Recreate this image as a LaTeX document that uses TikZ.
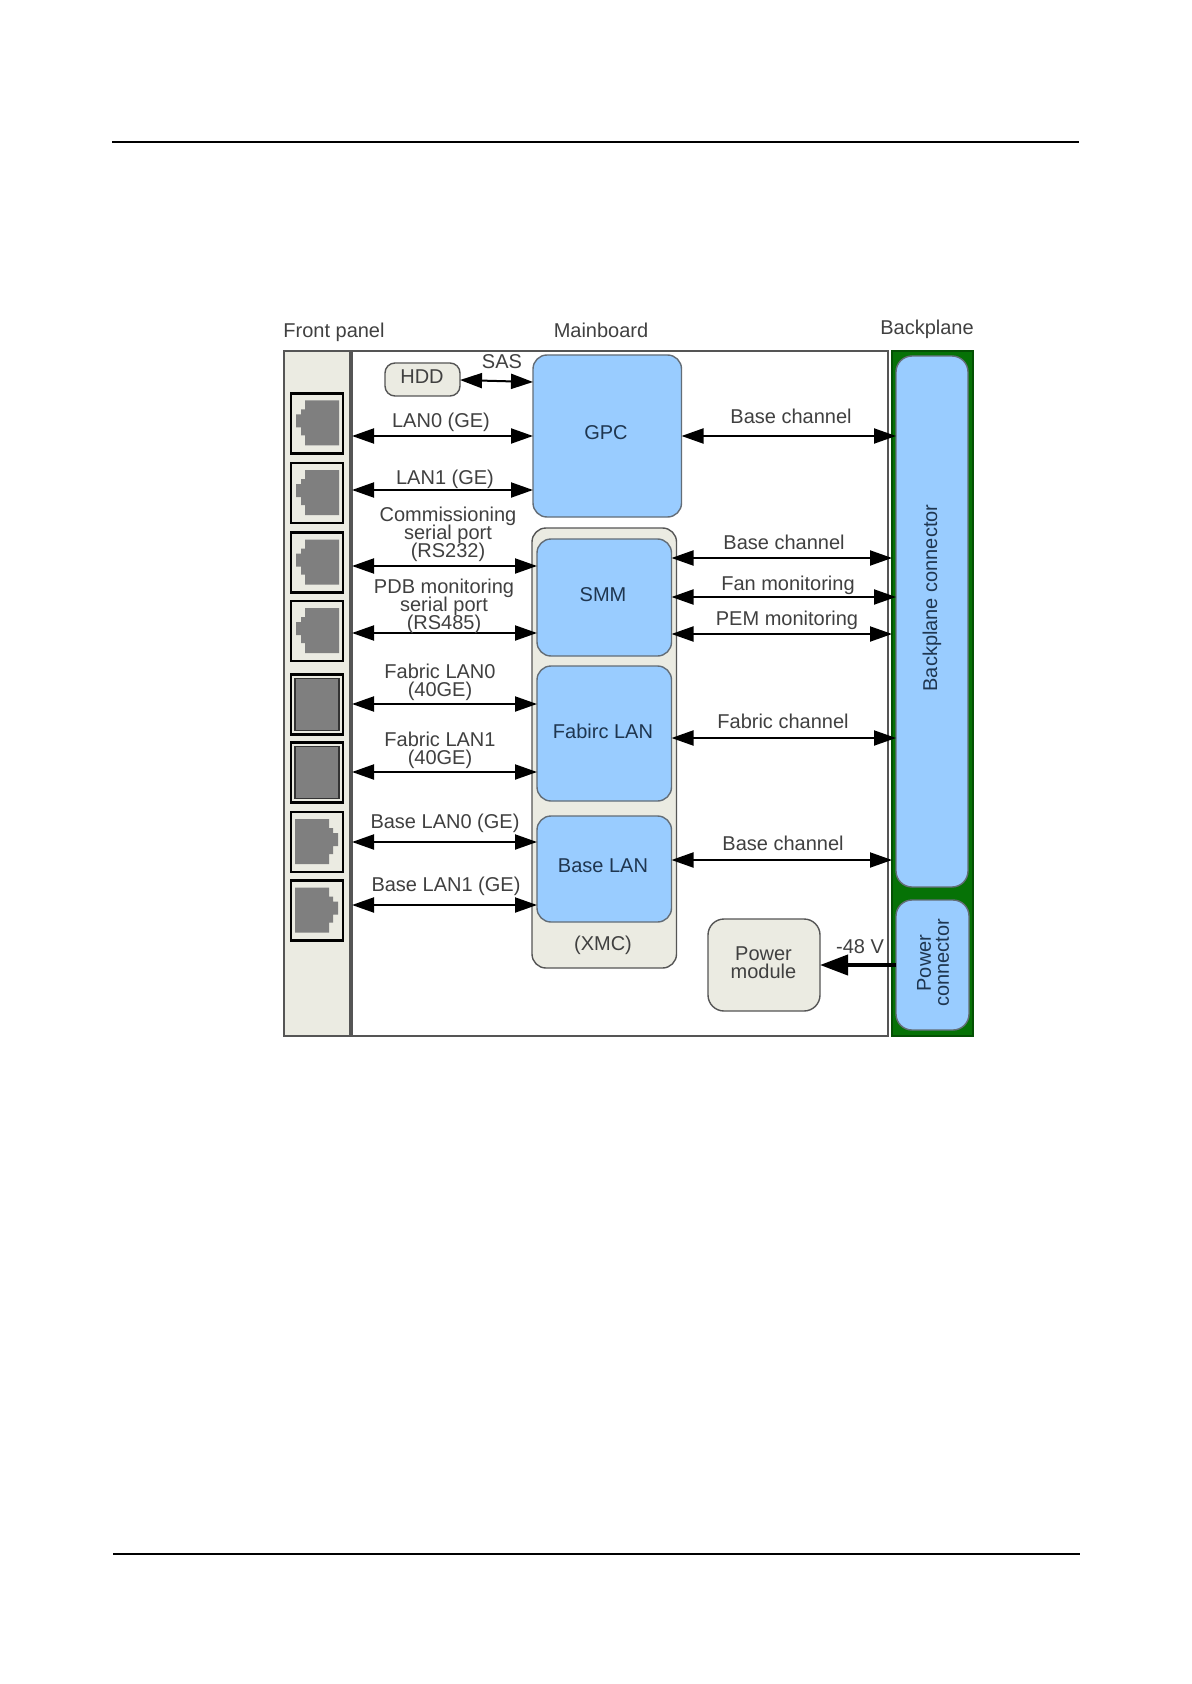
\documentclass[tikz,border=0pt]{standalone}
\usepackage{fontspec}
\setmainfont{Liberation Sans}
\usetikzlibrary{arrows.meta}
\definecolor{boardblue}{HTML}{99CCFF}
\definecolor{bluetext}{HTML}{1F3650}
\definecolor{greytext}{HTML}{404040}
\definecolor{cream}{HTML}{EBEBE2}
\definecolor{edgegrey}{HTML}{555555}
\definecolor{planegreen}{HTML}{067206}
\definecolor{portgrey}{HTML}{7F7F7F}
\newcommand{\labelfont}{\fontsize{10}{9}\selectfont\lineskiplimit=-10pt\relax}
\tikzset{
    txt/.style={font=\labelfont, text=greytext, align=center, inner sep=0pt},
    boxtxt/.style={txt, text=bluetext},
    bluebox/.style={draw=edgegrey!80!boardblue, fill=boardblue, line width=0.7pt, rounded corners=7pt, inner sep=0pt, outer sep=0pt},
    creambox/.style={draw=edgegrey, fill=cream, line width=0.7pt, rounded corners=7pt, inner sep=0pt, outer sep=0pt},
    frame/.style={draw=edgegrey, line width=0.8pt, inner sep=0pt, outer sep=0pt},
    biarrow/.style={{Triangle[length=11pt,width=7.5pt]}-{Triangle[length=11pt,width=7.5pt]}, line width=1pt, black},
    rjport/.pic={
        \draw[black, line width=1.1pt, fill=cream] (-26,-30) rectangle (26,30);
        \fill[portgrey] (22,-23) -- (-12,-23) -- (-12,-14) -- (-16,-14) -- (-16,-9) -- (-21,-9)
            -- (-21,4) -- (-16,4) -- (-16,12) -- (-12,12) -- (-12,22) -- (22,22) -- cycle;
    },
    sfpport/.pic={
        \draw[black, line width=1.1pt, fill=cream] (-26,-30) rectangle (26,30);
        \draw[black!80, line width=0.8pt, fill=portgrey] (-22,-26) rectangle (22,26);
    }
}
\begin{document}
\begin{tikzpicture}[x=0.5pt, y=-0.5pt]
    \useasboundingbox (0,0) rectangle (1191,1684);
    % Page rules
    \draw[black, line width=0.7pt] (112,142) -- (1079,142);
    \draw[black, line width=0.7pt] (113,1554) -- (1080,1554);

    % Outer blocks
    \node[frame, fill=cream, minimum width=33pt, minimum height=342.5pt] (panel) at (317,693.5) {};
    \node[frame, fill=white, minimum width=268pt, minimum height=342.5pt] (board) at (620,693.5) {};
    \node[frame, draw=planegreen!70!black, fill=planegreen, minimum width=40.5pt, minimum height=342.5pt] (plane) at (932.5,693.5) {};
    \node[txt] (panellabel) at (334,332) {Front panel};
    \node[txt] (boardlabel) at (601,330) {Mainboard};
    \node[txt] (planelabel) at (927,329) {Backplane};

    % Front panel ports
    \foreach \y in {423.5,493,562.5,631}
        \pic at (317,\y) {rjport};
    \foreach \y in {704.5,772.5}
        \pic at (317,\y) {sfpport};
    \foreach \y in {842,910.5}
        \pic[xscale=-1] at (317,\y) {rjport};

    % Mainboard blocks
    \node[creambox, minimum width=72.25pt, minimum height=220pt] (xmc) at (604.25,748) {};
    \node[bluebox, minimum width=74.25pt, minimum height=81pt] (gpc) at (607.25,436) {};
    \node[bluebox, minimum width=67.25pt, minimum height=58.5pt] (smm) at (604.25,597.5) {};
    \node[bluebox, minimum width=67.25pt, minimum height=67.5pt] (fabriclan) at (604.25,733.5) {};
    \node[bluebox, minimum width=67.25pt, minimum height=53pt] (baselan) at (604.25,869) {};
    \node[creambox, rounded corners=5pt, minimum width=37.5pt, minimum height=16.5pt] (hdd) at (422.5,379.5) {};
    \node[creambox, rounded corners=8pt, minimum width=56pt, minimum height=46pt] (power) at (764,965) {};
    \node[boxtxt] (gpclabel) at (606,433) {GPC};
    \node[boxtxt] (smmlabel) at (603,595) {SMM};
    \node[boxtxt] (fabriclabel) at (603,731) {Fabirc LAN};
    \node[boxtxt] (baselabel) at (603,866) {Base LAN};
    \node[txt] (xmclabel) at (603,945) {(XMC)};
    \node[txt] (hddlabel) at (422,377) {HDD};
    \node[txt] (powerlabel) at (763.5,963) {Power\\module};

    % Backplane blocks
    \node[bluebox, rounded corners=8pt, minimum width=36pt, minimum height=265.5pt] (backconn) at (932,621.5) {};
    \node[bluebox, rounded corners=8pt, minimum width=36.5pt, minimum height=65pt] (powerconn) at (932.5,965) {};
    \node[boxtxt, rotate=90] (backlabel) at (932,598) {Backplane connector};
    \node[boxtxt, rotate=90] (powerconnlabel) at (933,963) {Power\\connector};

    % Front panel links
    \draw[biarrow] (hdd.east |- 0,380) -- (gpc.west |- 0,382);
    \draw[biarrow] (board.west |- 0,436) -- (gpc.west |- 0,436);
    \draw[biarrow] (board.west |- 0,490) -- (gpc.west |- 0,490);
    \draw[biarrow] (board.west |- 0,566) -- (smm.west |- 0,566);
    \draw[biarrow] (board.west |- 0,633) -- (smm.west |- 0,633);
    \draw[biarrow] (board.west |- 0,704) -- (fabriclan.west |- 0,704);
    \draw[biarrow] (board.west |- 0,772) -- (fabriclan.west |- 0,772);
    \draw[biarrow] (board.west |- 0,842) -- (baselan.west |- 0,842);
    \draw[biarrow] (board.west |- 0,905) -- (baselan.west |- 0,905);
    \node[txt] (sas) at (502,362) {SAS};
    \node[txt] (lanzero) at (441,422) {LAN0 (GE)};
    \node[txt] (lanone) at (445,479) {LAN1 (GE)};
    \node[txt] (commport) at (448,534) {Commissioning\\serial port\\(RS232)};
    \node[txt] (pdbport) at (444,606) {PDB monitoring\\serial port\\(RS485)};
    \node[txt] (fabriczero) at (440,682) {Fabric LAN0\\(40GE)};
    \node[txt] (fabricone) at (440,750) {Fabric LAN1\\(40GE)};
    \node[txt] (basezero) at (445,823) {Base LAN0 (GE)};
    \node[txt] (baseone) at (446,886) {Base LAN1 (GE)};

    % Backplane links
    \draw[biarrow] (gpc.east |- 0,436) -- (backconn.west |- 0,436);
    \draw[biarrow] (smm.east |- 0,558) -- (plane.west |- 0,558);
    \draw[biarrow] (smm.east |- 0,597) -- (backconn.west |- 0,597);
    \draw[biarrow] (smm.east |- 0,634) -- (plane.west |- 0,634);
    \draw[biarrow] (fabriclan.east |- 0,738) -- (backconn.west |- 0,738);
    \draw[biarrow] (baselan.east |- 0,860) -- (plane.west |- 0,860);
    \draw[-{Triangle[length=14pt,width=10pt]}, line width=2pt, black] (powerconn.west) -- (power.east);
    \node[txt] (basechana) at (791,416) {Base channel};
    \node[txt] (basechanb) at (784,542) {Base channel};
    \node[txt] (fanmon) at (788,585) {Fan monitoring};
    \node[txt] (pemmon) at (787,620) {PEM monitoring};
    \node[txt] (fabricchan) at (783,721) {Fabric channel};
    \node[txt] (basechanc) at (783,843) {Base channel};
    \node[txt] (volts) at (860,947) {-48 V};
\end{tikzpicture}
\end{document}
